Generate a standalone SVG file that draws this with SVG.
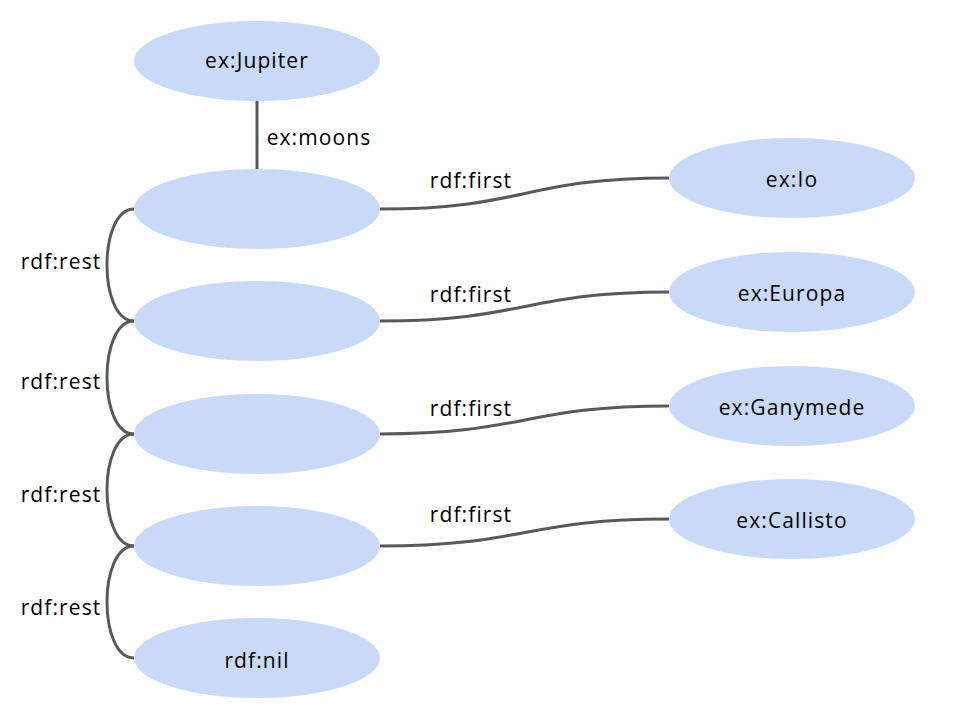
<svg xmlns="http://www.w3.org/2000/svg" width="960" height="720" viewBox="0 0 960 720">
<style>
.n ellipse{fill:#c9daf8;stroke:none}
.t{font-family:"Open Sans","Liberation Sans",sans-serif;font-size:21px;letter-spacing:1.1px;fill:#000;text-anchor:middle}
.e path{fill:none;stroke:#595959;stroke-width:3}
</style>
<rect width="960" height="720" fill="#fff"/>
<g class="e" id="connectors">
<path d="M257,101 L257,169"/>
<path d="M134,209 C98,209 98,321 134,321"/>
<path d="M134,321 C98,321 98,434 134,434"/>
<path d="M134,434 C98,434 98,546 134,546"/>
<path d="M134,546 C98,546 98,658 134,658"/>
<path d="M380,209 C525,209 525,178 669,178"/>
<path d="M380,321 C525,321 525,292 669,292"/>
<path d="M380,434 C525,434 525,406 669,406"/>
<path d="M380,546 C525,546 525,519 669,519"/>
</g>
<g id="edge-labels">
<text class="t" x="319" y="145">ex:moons</text>
<text class="t" x="61" y="269">rdf:rest</text>
<text class="t" x="61" y="389">rdf:rest</text>
<text class="t" x="61" y="502">rdf:rest</text>
<text class="t" x="61" y="615">rdf:rest</text>
<text class="t" x="471" y="188">rdf:first</text>
<text class="t" x="471" y="302">rdf:first</text>
<text class="t" x="471" y="416">rdf:first</text>
<text class="t" x="471" y="522">rdf:first</text>
</g>
<g class="n" id="jupiter"><ellipse cx="257" cy="61" rx="123" ry="40"/><text class="t" x="257" y="68">ex:Jupiter</text></g>
<g class="n" id="b1"><ellipse cx="257" cy="209" rx="123" ry="40"/></g>
<g class="n" id="b2"><ellipse cx="257" cy="321" rx="123" ry="40"/></g>
<g class="n" id="b3"><ellipse cx="257" cy="434" rx="123" ry="40"/></g>
<g class="n" id="b4"><ellipse cx="257" cy="546" rx="123" ry="40"/></g>
<g class="n" id="nil"><ellipse cx="257" cy="658" rx="123" ry="40"/><text class="t" x="257" y="668">rdf:nil</text></g>
<g class="n" id="io"><ellipse cx="792" cy="178" rx="123" ry="40"/><text class="t" x="792" y="187">ex:Io</text></g>
<g class="n" id="europa"><ellipse cx="792" cy="292" rx="123" ry="40"/><text class="t" x="792" y="301">ex:Europa</text></g>
<g class="n" id="ganymede"><ellipse cx="792" cy="406" rx="123" ry="40"/><text class="t" x="792" y="415">ex:Ganymede</text></g>
<g class="n" id="callisto"><ellipse cx="792" cy="519" rx="123" ry="40"/><text class="t" x="792" y="528">ex:Callisto</text></g>
</svg>
